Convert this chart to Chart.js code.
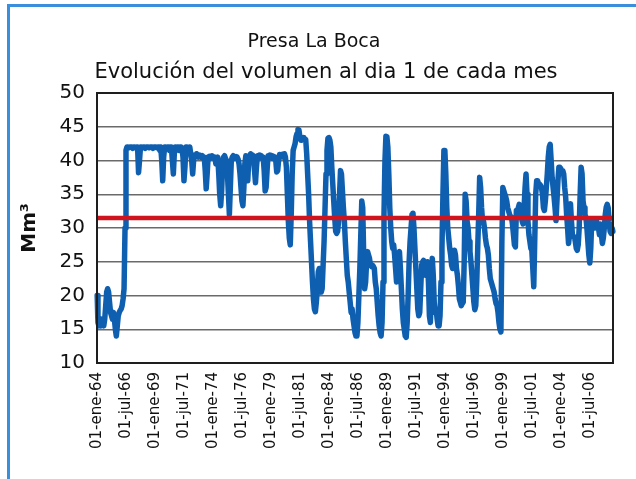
<!DOCTYPE html>
<html>
<head>
<meta charset="utf-8">
<script src="https://cdn.jsdelivr.net/npm/chart.js@4/dist/chart.umd.min.js"></script>
<style>
  html, body { margin: 0; padding: 0; background: #ffffff; }
  #wrap { position: relative; width: 636px; height: 479px; overflow: hidden; background: #fff; }
  #frame { position: absolute; left: 7px; top: 4px; width: 640px; height: 480px;
           border-left: 3px solid #3a8fdc; border-top: 3px solid #3a8fdc; }
  canvas { position: absolute; left: 0; top: 0; }
</style>
</head>
<body>
<div id="wrap">
  <div id="frame"></div>
  <canvas id="c" width="636" height="479"></canvas>
</div>
<script>
// ---- data ----
const titleLines = ['Presa La Boca', 'Evolución del volumen al dia 1 de cada mes'];
const yAxisTitle = 'Mm³';
const startYear = 1964;
const monthNames = ['ene','feb','mar','abr','may','jun','jul','ago','sep','oct','nov','dic'];
const tickEvery = 30; // a label every 30 months
const referenceLevel = 31.5; // red line

// monthly volume (Mm3), 1 Jan 1964 .. Jul 2008, one row per year
const volume1964_1973 = [
  20, 16, 15.5, 16, 15.5, 16.5, 15.8, 15.5, 16.5, 18.5, 20.5, 21,
  20.5, 19, 17.5, 17, 16.5, 17.5, 16.5, 15, 14, 15.5, 17, 17.5,
  17.8, 18, 18.5, 19.5, 21, 30, 41.5, 42, 42, 41.9, 42, 42,
  42, 41.8, 42, 42, 41.9, 42, 42, 38.2, 40, 42, 42, 41.9,
  42, 42, 41.8, 42, 42, 42, 41.9, 42, 42, 42, 41.8, 42,
  42, 42, 41.9, 42, 42, 41.5, 42, 40, 37, 40.5, 42, 42,
  41.8, 42, 42, 41.5, 42, 42, 40, 38, 41, 42, 41.8, 42,
  42, 41.5, 42, 42, 41.8, 40.5, 37, 39, 42, 42, 41.8, 41,
  42, 41, 40, 38, 40, 40.8, 40.5, 41, 40.7, 40.5, 40.8, 40.5,
  40.5, 40.7, 40.3, 40.5, 38.5, 35.8, 38, 40.5, 40.6, 40.3, 40.5, 40.7
];
const volume1974_1983 = [
  40.5, 40.3, 40.5, 39.5, 40.2, 40.5, 38, 35, 33.3, 35.5, 39.5, 40.5,
  40.7, 40.3, 40, 38, 35, 32, 36, 40, 40.5, 40.7, 40.3, 40.5,
  40.6, 40.5, 40.2, 39.5, 38, 36, 34, 33.3, 36, 39.5, 40.7, 38,
  37, 40, 40.7, 41, 40.5, 40.8, 40.3, 38.5, 36.7, 39, 40.7, 40.5,
  40.8, 40.5, 40.7, 40.3, 40.5, 38.5, 35.5, 36, 38.5, 40.7, 40.5, 40.8,
  40.5, 40.7, 40.3, 40.6, 40.5, 40, 38.3, 38.5, 40.2, 40.9, 40.5, 40.7,
  40.9, 40.5, 41, 40.5, 39, 35, 31, 28.5, 27.5, 32, 38, 41.5,
  42, 42.5, 43.5, 44, 44.6, 44.5, 43.5, 43, 43, 43.2, 43.4, 43,
  43.1, 41, 38, 35, 31, 28, 25, 22, 19.5, 18, 17.6, 19,
  21, 23.5, 24, 22, 20.5, 21, 24.5, 28, 33, 38, 41.5, 43.3
];
const volume1984_1993 = [
  43.4, 43, 42, 39, 36.5, 34, 31.5, 29.5, 29.2, 29.5, 31, 35,
  38.5, 38, 35.5, 33, 31, 28, 25.5, 23, 22, 20.5, 19, 17.5,
  18, 16.5, 15.5, 14.5, 14, 14, 16, 20, 24, 29, 34, 33,
  26, 21, 22, 25, 26.5, 26, 25.5, 24.5, 24.3, 24.5, 24.3, 24,
  22, 21, 19, 17, 15.5, 14.5, 14, 16, 22, 32, 40, 43.6,
  43.5, 42, 38, 33, 30, 28, 27, 27.5, 26, 24, 22, 24,
  26, 26.5, 24, 21, 18, 16, 15, 14, 13.8, 16, 20, 25,
  28, 30, 32, 32.2, 30, 27, 24, 21, 18, 17, 17.5, 21,
  24.5, 25, 25.2, 24, 23, 24.5, 25, 22, 17, 16, 20, 25.5,
  23, 19, 17.5, 18, 16.5, 15.5, 15.5, 17, 22, 27, 35, 41.5
];
const volume1994_2003 = [
  41.5, 38, 33, 30, 28.5, 27, 26, 24.5, 24, 25.5, 26.7, 26,
  24, 23, 21.5, 19.5, 19, 18.5, 18.8, 19, 25, 35, 34, 31,
  30, 28, 26.5, 25, 23, 21, 19, 17.9, 18.5, 22, 27, 32,
  37.5, 36, 33, 31, 31, 30, 28.5, 27.5, 27, 26, 24, 22.5,
  22, 21.5, 21, 20.5, 19.5, 18.8, 18.5, 17.5, 16, 15, 14.6, 28,
  36, 35.5, 35, 34.6, 34, 33, 32.5, 32, 31.5, 31.6, 30.5, 29,
  27.5, 27.2, 32.6, 32.5, 33, 33.5, 33, 32, 31, 30.6, 33, 36,
  38, 35, 31, 29, 28, 27, 26.7, 24, 21.3, 28, 35, 37,
  37, 36.5, 36.5, 36.3, 36, 35, 33, 32.6, 34, 36, 38, 40.5,
  42, 42.4, 40, 37.5, 36, 34.6, 33, 31.1, 34, 37, 39, 39
];
const volume2004_2008 = [
  38.8, 38.5, 38.5, 38, 36, 34.6, 32, 30, 27.7, 29, 33.6, 31,
  29, 28.7, 28.7, 28, 27, 26.7, 27.5, 30, 35, 39, 38, 34,
  33, 32, 31.5, 30, 28, 26, 24.8, 27, 31.1, 31, 30.5, 30,
  30.5, 31, 30.5, 30, 29, 30.6, 29, 27.7, 28.5, 30, 32, 33.1,
  33.5, 33, 31, 29.5, 29.2, 30, 29.5
];

const volume = [].concat(volume1964_1973, volume1974_1983, volume1984_1993, volume1994_2003, volume2004_2008);

// category labels: first day of each month
const months = volume.map((_, i) => {
  const y = startYear + Math.floor(i / 12);
  return '01-' + monthNames[i % 12] + '-' + String(y % 100).padStart(2, '0');
});

const FONT = "'DejaVu Sans', sans-serif";

const framePlugin = {
  id: 'frame',
  afterDraw(chart) {
    const a = chart.chartArea;
    const ctx = chart.ctx;
    ctx.save();
    ctx.strokeStyle = '#1e1e1e';
    ctx.lineWidth = 2;
    ctx.strokeRect(a.left, a.top, a.right - a.left, a.bottom - a.top);
    // two-line chart title
    ctx.fillStyle = '#111';
    ctx.textAlign = 'center';
    ctx.textBaseline = 'middle';
    ctx.font = '19px ' + FONT;
    ctx.fillText(titleLines[0], 314, 42);
    ctx.font = '21px ' + FONT;
    ctx.fillText(titleLines[1], 326, 73);
    ctx.restore();
  }
};

new Chart(document.getElementById('c'), {
  type: 'line',
  data: {
    labels: months,
    datasets: [
      {
        label: 'Referencia',
        data: [{ x: months[0], y: referenceLevel }, { x: months[months.length - 1], y: referenceLevel }],
        borderColor: '#d0141e',
        borderWidth: 4.5,
        pointRadius: 0,
        tension: 0,
        order: 0
      },
      {
        label: 'Volumen',
        data: volume,
        borderColor: '#0f5fb0',
        borderWidth: 5.5,
        pointRadius: 0,
        tension: 0,
        borderJoinStyle: 'round',
        borderCapStyle: 'round',
        order: 1
      }
    ]
  },
  options: {
    responsive: false,
    animation: false,
    devicePixelRatio: 1,
    layout: { padding: { left: 0, right: 23, top: 93, bottom: 0 } },
    plugins: {
      legend: { display: false },
      tooltip: { enabled: false },
      title: { display: false }
    },
    scales: {
      x: {
        type: 'category',
        grid: { display: false, drawTicks: false },
        border: { display: false },
        ticks: {
          autoSkip: false,
          maxRotation: 90,
          minRotation: 90,
          padding: 9,
          color: '#111',
          font: { family: FONT, size: 15 },
          callback: function (value, index) {
            return index % tickEvery === 0 ? months[index] : null;
          }
        },
        afterFit(scale) { scale.height = 116; }
      },
      y: {
        min: 10,
        max: 50,
        grid: { color: '#6a6a6a', lineWidth: 1.5, drawTicks: false },
        border: { display: false },
        ticks: {
          stepSize: 5,
          padding: 12,
          color: '#111',
          font: { family: FONT, size: 20 }
        },
        title: {
          display: true,
          text: yAxisTitle,
          color: '#111',
          font: { family: FONT, size: 20, weight: 'bold' },
          padding: { top: 18, bottom: 0 }
        },
        afterFit(scale) { scale.width = 97; }
      }
    }
  },
  plugins: [framePlugin]
});
</script>
</body>
</html>
